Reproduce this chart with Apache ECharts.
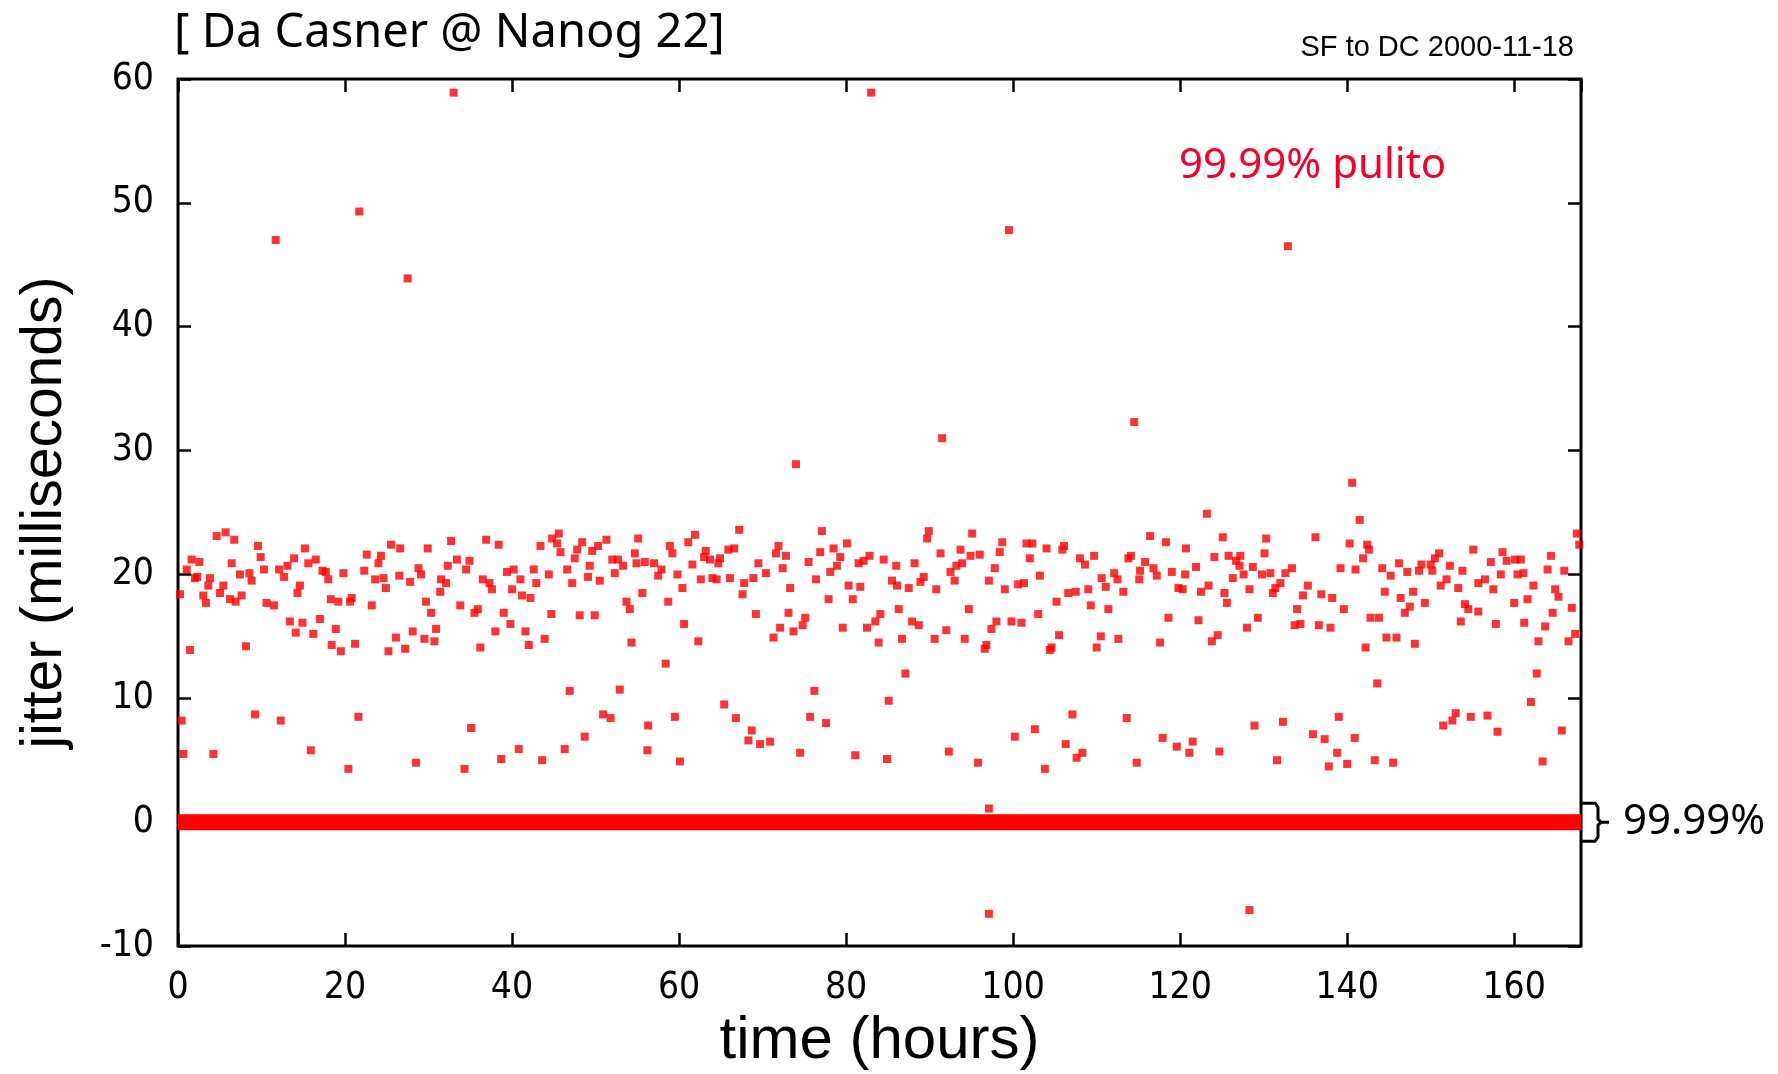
<!DOCTYPE html>
<html>
<head>
<meta charset="utf-8">
<title>jitter</title>
<script src="https://cdn.jsdelivr.net/npm/echarts@6/dist/echarts.min.js"></script>
<style>
  html, body { margin: 0; padding: 0; background: #fff; }
  #chartBox { width: 1778px; height: 1074px; }
</style>
</head>
<body>
<div id="chartBox"></div>
<script>
// hours / jitter (ms), left to right
const hours = [
  // 0 - 28 h
  0.24,1.04,1.63,2.55,2.03,2.3,3.63,3.83,3.03,3.35,4.63,5.7,6.74,5.43,5.03,6.43,6.23,6.9,7.62,7.42,
  8.54,8.82,9.58,9.9,10.3,10.6,11.5,12.1,12.7,13.1,13.9,14.6,14.3,15.2,15.6,16.5,17.3,17.7,18.0,18.3,
  19.2,19.8,20.8,20.6,22.6,22.3,23.2,24.3,24.0,23.6,24.6,24.9,25.5,26.6,26.5,
  13.4,14.1,14.9,16.2,17.0,18.9,18.4,19.5,21.2,25.2,26.1,1.44,8.14,
  0.44,9.22,12.3,21.6,0.64,4.23,15.9,20.4,
  // 28 - 56 h
  29.9,32.7,36.9,38.4,43.4,44.8,45.6,45.4,45.8,48.4,47.8,47.5,49.6,50.3,51.3,55.1,54.7,52.0,52.7,53.3,
  52.3,54.9,55.9,27.8,28.8,29.1,31.5,32.1,31.4,32.3,33.4,34.5,34.9,36.5,37.3,37.6,39.4,40.2,41.0,40.0,
  41.2,42.2,42.6,42.9,44.4,46.6,47.2,49.3,49.1,50.5,29.7,30.3,33.8,35.5,35.9,39.0,39.8,44.7,48.1,49.9,
  53.7,54.1,55.6,28.1,29.5,30.9,30.7,27.2,36.2,38.0,41.6,42.0,43.9,54.3,
  46.9,52.9,50.9,51.8,35.1,48.7,56.3,28.5,34.3,38.7,40.8,43.6,46.3,56.2,
  // 56 - 84 h
  67.2,77.1,58.9,59.2,61.1,61.9,63.2,63.0,63.7,64.9,64.7,65.9,66.6,57.0,57.9,57.5,59.8,61.6,62.6,64.0,
  64.5,66.1,67.8,68.9,69.5,70.4,71.9,71.6,72.8,72.4,75.5,76.9,78.5,79.3,78.9,78.1,80.1,81.5,82.1,82.8,
  76.4,60.4,67.6,73.3,77.9,80.3,81.7,80.8,58.7,60.6,62.3,69.2,73.1,75.1,74.8,73.7,72.1,71.3,79.6,82.5,
  58.4,76.2,65.4,59.5,66.8,68.7,68.3,69.7,70.9,75.7,77.6,60.1,74.5,81.1,
  // 84 - 112 h
  89.9,89.7,95.1,98.7,101.6,102.3,104.0,106.1,84.5,86.0,88.2,91.3,93.7,93.9,93.2,94.9,96.0,98.4,97.8,102.0,
  105.9,108.0,108.6,109.7,92.5,93.0,85.5,86.1,87.5,89.3,88.9,90.8,97.1,99.0,100.6,101.3,103.2,106.6,107.5,109.0,
  110.6,112.1,111.1,112.5,105.2,109.3,111.4,84.1,83.5,86.3,87.9,88.7,94.7,92.0,98.0,97.4,99.8,101.0,103.0,105.5,
  83.9,86.7,90.6,94.2,96.8,96.6,104.6,104.4,110.5,110.0,112.6,87.1,85.1,
  107.1,102.6,100.2,106.3,92.3,84.9,95.8,103.8,107.6,108.3,
  // 112 - 140 h
  123.2,116.4,118.3,120.7,125.1,130.3,136.2,140.3,114.1,113.8,115.8,116.8,115.2,117.2,115.1,119.0,120.6,121.9,124.1,125.8,
  127.2,126.7,127.1,127.6,128.7,130.1,129.8,130.8,132.6,133.4,139.2,141.0,126.3,113.2,119.8,120.3,122.5,123.4,125.3,125.6,
  128.3,131.1,131.4,132.0,134.7,135.3,136.9,138.2,139.6,118.6,122.2,129.3,128.0,134.0,133.7,134.4,136.6,138.0,117.6,123.8,
  124.5,113.6,117.9,119.6,121.5,121.1,124.7,128.9,132.3,135.9,137.3,139.0,138.8,140.0,137.8,114.8,131.6,140.6,
  // 140 - 168 h
  141.5,142.4,142.6,141.9,144.2,145.2,146.2,147.2,148.6,148.9,150.0,150.2,150.5,151.0,152.3,153.8,155.1,157.2,158.6,159.1,
  160.1,160.8,158.4,160.4,161.1,164.4,164.0,166.0,167.5,167.8,144.5,146.4,147.9,147.5,146.9,149.3,151.2,151.9,153.3,154.1,
  154.5,155.7,156.5,157.5,155.7,160.0,161.6,162.3,164.9,165.3,166.9,164.6,142.8,143.8,153.6,157.8,161.2,163.7,144.7,145.9,
  148.1,142.2,162.9,166.5,167.3,162.7,143.6,162.0,151.5,152.6,153.0,154.8,156.8,158.0,165.7,140.9,143.3,145.5,163.4,
  // outliers
  33.0,83.0,11.7,21.7,27.5,99.5,132.9,91.5,114.5,74.0,97.1,128.3,97.1
];
const jitter = [
  18.4,20.4,21.2,21.0,19.7,19.8,19.1,19.7,18.3,17.7,23.1,23.4,22.8,19.1,18.5,20.9,18.0,17.8,18.3,20.0,
  20.1,19.5,22.3,21.4,20.4,17.7,17.5,20.4,19.8,20.7,21.3,19.1,18.5,22.1,20.9,21.2,20.3,20.2,19.6,18.0,
  17.8,20.1,18.1,17.8,21.6,20.3,17.5,21.5,20.9,19.6,19.7,18.9,22.4,22.1,19.9,
  16.2,15.3,16.1,15.2,16.4,15.6,14.3,13.8,14.4,13.8,14.9,13.9,14.2,
  8.2,8.7,8.2,8.5,5.5,5.5,5.8,4.3,
  22.1,22.7,22.8,22.4,22.3,22.9,23.3,22.5,21.8,22.6,22.0,21.3,21.9,22.3,22.8,22.9,21.7,21.2,21.2,20.7,
  20.1,20.9,21.0,19.4,20.5,20.0,19.6,19.3,18.6,20.7,21.2,20.4,21.1,19.6,19.3,18.8,20.2,20.4,19.6,18.8,
  18.3,18.1,20.4,19.3,20.0,20.4,19.3,20.7,19.8,19.5,17.8,16.9,17.5,16.9,17.2,16.9,16.0,16.8,16.7,16.7,
  17.8,17.2,18.5,15.4,14.8,15.6,14.6,14.0,14.1,15.4,15.4,14.3,14.8,14.5,
  10.6,10.7,8.7,8.4,7.6,6.9,7.8,4.8,4.3,5.1,5.9,5.0,5.9,5.8,
  23.6,23.5,22.3,21.7,22.6,23.2,21.9,21.4,21.2,21.3,20.9,22.0,22.1,20.9,20.4,19.9,20.0,20.8,19.6,19.7,
  19.6,19.7,19.3,19.7,20.9,20.1,22.3,21.7,21.5,20.5,21.0,21.8,22.1,21.4,20.7,20.2,22.5,20.9,21.1,21.5,
  19.6,18.9,18.4,18.9,18.0,19.1,19.0,18.0,17.8,16.0,14.6,16.8,16.9,16.5,15.9,15.4,15.7,14.9,15.7,15.7,
  12.8,10.6,9.5,8.5,8.4,7.4,6.6,6.3,6.5,8.5,8.0,4.9,5.6,5.4,
  23.5,22.9,23.3,22.6,22.5,22.5,22.1,22.3,21.2,20.7,20.9,21.7,22.0,20.9,20.7,21.5,21.6,21.8,20.5,21.3,
  22.0,21.3,20.8,21.5,20.2,19.5,19.5,19.1,18.9,19.8,19.4,18.8,19.5,18.8,19.2,19.3,19.9,18.5,18.6,18.8,
  19.7,20.1,19.0,19.6,17.8,17.5,17.2,16.8,16.2,17.2,16.2,15.9,17.2,15.5,16.2,15.6,16.2,16.1,16.8,15.1,
  14.5,14.8,14.8,14.8,14.3,14.0,14.1,13.9,15.0,14.1,14.8,12.0,9.8,
  8.7,7.5,6.9,6.3,5.7,5.1,4.8,4.3,5.2,5.6,
  24.9,23.1,22.6,22.1,23.0,22.9,23.0,22.5,21.5,21.3,21.0,20.5,20.3,19.9,19.6,20.2,20.0,20.6,21.4,21.5,
  21.5,21.1,20.7,20.0,20.6,21.7,20.0,20.1,20.1,20.5,20.5,20.4,19.7,18.6,18.9,18.8,18.6,19.1,18.5,17.7,
  18.8,18.5,18.9,19.3,18.3,19.1,18.4,18.1,17.2,16.5,16.3,16.5,15.7,17.2,15.9,16.0,15.9,15.7,14.5,14.6,
  15.1,8.4,6.8,6.1,6.5,5.6,5.7,7.8,8.1,7.1,6.7,8.5,5.6,4.7,4.5,4.8,5.0,27.4,
  24.4,22.4,22.0,21.3,20.5,19.9,20.9,20.2,20.3,20.8,20.8,20.3,21.3,21.7,20.7,20.3,22.0,21.0,21.8,21.1,
  21.2,21.2,20.0,20.0,20.1,21.5,20.4,20.3,23.3,22.4,18.6,18.1,18.6,17.4,16.9,17.7,19.1,19.6,18.9,17.6,
  17.2,19.3,19.6,18.8,17.0,17.7,18.0,19.1,18.8,18.2,17.3,16.9,16.5,16.5,16.2,16.0,16.1,15.8,14.9,14.9,
  14.4,14.1,14.6,14.6,15.2,12.0,11.2,9.7,7.8,8.2,8.8,8.5,8.6,7.3,7.4,6.8,5.0,4.8,4.9,
  58.9,58.9,47.0,49.3,43.9,47.8,46.5,31.0,32.3,28.9,-7.4,-7.1,1.1
];
// the solid band of zero-jitter packets
const zeroHours = [0, 168];
const zeroJitter = [0, 0];

const xTicks = { min: 0, max: 168, interval: 20 };
const yTicks = { min: -10, max: 60, interval: 10 };

const chart = echarts.init(document.getElementById('chartBox'));

const tickFont = { fontFamily: '"Liberation Sans Narrow", "DejaVu Sans Condensed", "Liberation Sans", sans-serif', fontSize: 37, color: '#000' };
const tick = { show: true, inside: true, length: 13, lineStyle: { color: '#000', width: 2.5 } };
const noLine = { show: false, onZero: false };

const points = hours.map((h, i) => [h, jitter[i]]);
const band = zeroHours.map((h, i) => [h, zeroJitter[i]]);

chart.setOption({
  animation: false,
  backgroundColor: '#fff',
  grid: {
    left: 178, right: 197, top: 79, bottom: 128,
    outerBoundsMode: 'none',
    containLabel: false,
    show: true, borderColor: '#000', borderWidth: 3
  },
  xAxis: [{
    type: 'value', min: xTicks.min, max: xTicks.max, interval: xTicks.interval,
    name: 'time (hours)', nameLocation: 'middle', nameGap: 62,
    nameTextStyle: { fontFamily: '"Liberation Sans Narrow", "Liberation Sans", sans-serif', fontSize: 60, color: '#000' },
    axisLine: noLine,
    axisTick: tick,
    axisLabel: Object.assign({ margin: 24, showMaxLabel: false }, tickFont),
    splitLine: { show: false }
  }, {
    type: 'value', position: 'top', min: xTicks.min, max: xTicks.max, interval: xTicks.interval,
    axisLine: noLine, axisTick: tick, axisLabel: { show: false }, splitLine: { show: false }
  }],
  yAxis: [{
    type: 'value', min: yTicks.min, max: yTicks.max, interval: yTicks.interval,
    name: 'jitter (milliseconds)', nameLocation: 'middle', nameGap: 104, nameRotate: 90,
    nameTextStyle: { fontFamily: '"Liberation Sans", sans-serif', fontSize: 57, color: '#000' },
    axisLine: noLine,
    axisTick: tick,
    axisLabel: Object.assign({ margin: 24 }, tickFont),
    splitLine: { show: false }
  }, {
    type: 'value', position: 'right', min: yTicks.min, max: yTicks.max, interval: yTicks.interval,
    axisLine: noLine, axisTick: tick, axisLabel: { show: false }, splitLine: { show: false }
  }],
  series: [{
    type: 'line',
    data: band,
    symbol: 'none',
    lineStyle: { color: '#ff0000', width: 16, cap: 'butt' },
    z: 2
  }, {
    type: 'scatter',
    data: points,
    symbol: 'rect',
    symbolSize: 8,
    itemStyle: { color: '#ff0000' },
    z: 3
  }]
});

// annotations: title, subtitle, brace next to the zero band
const p0 = chart.convertToPixel({ xAxisIndex: 0, yAxisIndex: 0 }, [168, 0]);
const bx = p0[0], by = p0[1];
chart.setOption({
  graphic: [
    { type: 'text', left: 174, top: 10,
      style: { text: '[ Da Casner @ Nanog 22]', font: '47px "Noto Sans", sans-serif', fill: '#000' } },
    { type: 'text', x: 1574, y: 48,
      style: { text: 'SF to DC 2000-11-18', font: '29px "Liberation Sans", sans-serif', fill: '#000', align: 'right', verticalAlign: 'middle' } },
    { type: 'text', x: 1179, y: 166,
      style: { text: '99.99% pulito', font: '42px "Noto Sans", sans-serif', fill: '#f5002d', verticalAlign: 'middle' } },
    { type: 'polyline', z: 10,
      shape: { points: [[bx, by - 19], [bx + 14, by - 19], [bx + 17, by - 15], [bx + 17, by - 3], [bx + 20, by], [bx + 28, by],
                        [bx + 20, by], [bx + 17, by + 3], [bx + 17, by + 15], [bx + 14, by + 19], [bx, by + 19]] },
      style: { stroke: '#000', lineWidth: 3, fill: null } },
    { type: 'text', x: bx + 42, y: by,
      style: { text: '99.99%', font: '42px "Noto Sans", sans-serif', fill: '#000', verticalAlign: 'middle' } }
  ]
});
</script>
</body>
</html>
